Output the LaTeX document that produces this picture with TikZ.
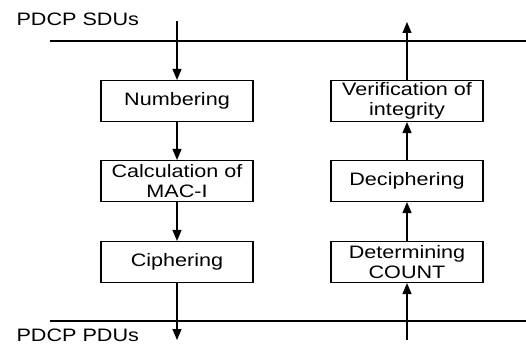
\documentclass[tikz,border=0pt]{standalone}
\usepackage{fontspec}
\setmainfont{Liberation Sans}[FakeStretch=1.2]
\usepackage{tikz}
\usetikzlibrary{arrows.meta}

\begin{document}
\begin{tikzpicture}[x=1pt, y=-1pt, line width=1.1pt, font=\fontsize{18}{19.5}\selectfont,
    box/.style={draw, minimum width=152pt, minimum height=41pt, inner sep=0pt, align=center}, % 処理の箱
    flow/.style={-{Triangle[width=9pt,length=11pt]}}] % 矢印
    \useasboundingbox (0,0) rectangle (526,345); % 図の大きさ
    \draw (50,41) -- (526,41); % 上の境界線
    \draw (50,321) -- (526,321); % 下の境界線
    \node[anchor=base west, inner sep=0pt] (sdu) at (16,26) {PDCP SDUs};
    \node[anchor=base west, inner sep=0pt] (pdu) at (16,341) {PDCP PDUs};

    % 送信側
    \node[box] (num) at (177,101) {Numbering};
    \node[box] (mac) at (177,181) {Calculation of\\MAC-I};
    \node[box] (ciph) at (177,262) {Ciphering};
    % 受信側
    \node[box] (veri) at (407,101) {Verification of\\integrity};
    \node[box] (deciph) at (407,181) {Deciphering};
    \node[box] (count) at (407,262) {Determining\\COUNT};

    \coordinate (inL) at (177,21); % 矢印の端点
    \coordinate (outL) at (177,340);
    \coordinate (inR) at (407,340);
    \coordinate (outR) at (407,22);

    \draw[flow] (inL) -- (num);
    \draw[flow] (num) -- (mac);
    \draw[flow] (mac) -- (ciph);
    \draw[flow] (ciph) -- (outL);
    \draw[flow] (inR) -- (count);
    \draw[flow] (count) -- (deciph);
    \draw[flow] (deciph) -- (veri);
    \draw[flow] (veri) -- (outR);
\end{tikzpicture}
\end{document}
